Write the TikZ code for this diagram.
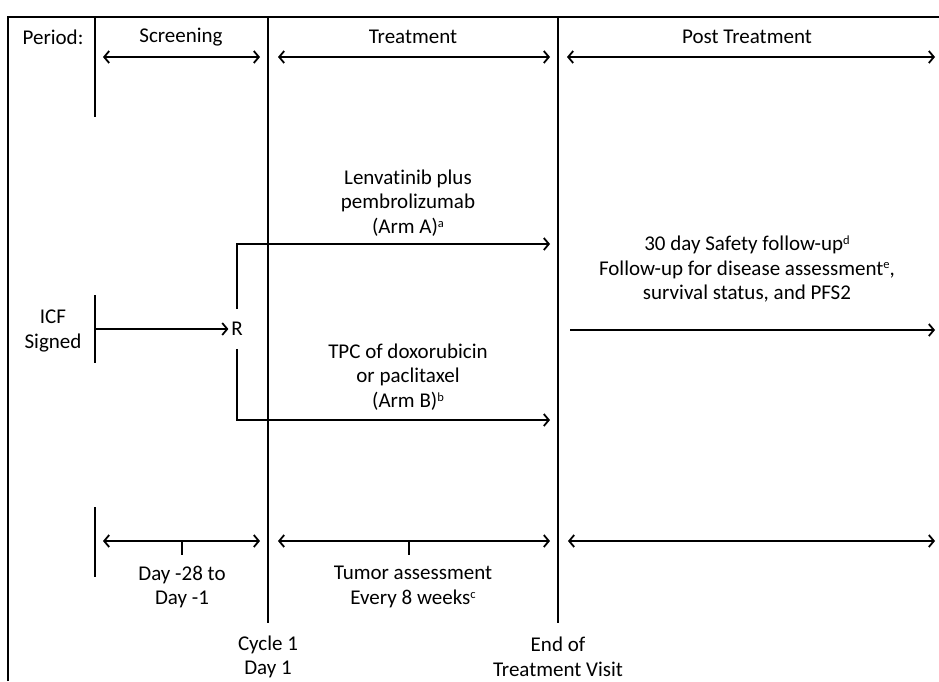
\documentclass[tikz,border=0pt]{standalone}
\usepackage{fontspec}
\setmainfont[Ligatures=NoCommon]{Carlito}
\usetikzlibrary{arrows.meta}
\newcommand\noteref[1]{\raisebox{0.6ex}{\fontsize{12.5}{12.5}\selectfont #1}}

\begin{document}
\begin{tikzpicture}[x=1pt,y=-1pt,line width=1.8pt,
  >={Straight Barb[length=5pt,width=12pt]},
  lbl/.style={inner sep=0pt,align=center,font=\fontsize{21}{24.5}\selectfont},
  span/.style={<->},
  tick/.style={line width=1.8pt}]
 \useasboundingbox (0,0) rectangle (939,681);
 % frame
 \coordinate (frameB) at (8,681);
 \coordinate (frameC) at (8,17);
 \coordinate (frameR) at (939,17);
 \draw[line width=1.1pt] (frameB) -- (frameC) -- (frameR);
 % period dividers
 \coordinate (startT) at (95,17);   \coordinate (startB) at (95,117);
 \coordinate (cycT) at (268,17);    \coordinate (cycB) at (268,623);
 \coordinate (eotT) at (558,17);    \coordinate (eotB) at (558,623);
 \draw (startT) -- (startB);
 \draw (cycT) -- (cycB);
 \draw (eotT) -- (eotB);
 % header
 \node[lbl] (period) at (53,37) {Period:};
 \node[lbl] (screening) at (181,37) {Screening};
 \node[lbl] (treatment) at (413,37) {Treatment};
 \node[lbl] (post) at (747,37) {Post Treatment};
 \coordinate (scrL) at (103,57);  \coordinate (scrR) at (260,57);
 \coordinate (trtL) at (278,57);  \coordinate (trtR) at (550,57);
 \coordinate (pstL) at (567,57);  \coordinate (pstR) at (935,57);
 \draw[span] (scrL) -- (scrR);
 \draw[span] (trtL) -- (trtR);
 \draw[span] (pstL) -- (pstR);
 % randomisation
 \node[lbl] (icf) at (53,331) {ICF\\Signed};
 \coordinate (icfT) at (95,295);  \coordinate (icfB) at (95,363);
 \draw (icfT) -- (icfB);
 \node[lbl,minimum height=38pt,inner xsep=2pt] (rand) at (237,329) {R};
 \coordinate (icfA) at (95,329);
 \draw[->] (icfA) -- (rand.west);
 \coordinate (armA) at (550,244);
 \coordinate (armB) at (550,420);
 \draw[->] (rand.north) |- (armA);
 \draw[->] (rand.south) |- (armB);
 \node[lbl] (textA) at (408,203) {Lenvatinib plus\\pembrolizumab\\(Arm A)\noteref{a}};
 \node[lbl] (textB) at (408,377) {TPC of doxorubicin\\or paclitaxel\\(Arm B)\noteref{b}};
 \node[lbl] (follow) at (747,269) {30 day Safety follow-up\noteref{d}\\Follow-up for disease assessment\noteref{e},\\survival status, and PFS2};
 \coordinate (folL) at (570,330);  \coordinate (folR) at (935,330);
 \draw[->] (folL) -- (folR);
 % timing
 \coordinate (dayT) at (95,507);  \coordinate (dayB) at (95,577);
 \draw (dayT) -- (dayB);
 \coordinate (dayL) at (103,541);  \coordinate (dayR) at (260,541);
 \coordinate (tumL) at (278,541);  \coordinate (tumR) at (550,541);
 \coordinate (futL) at (568,541);  \coordinate (futR) at (935,541);
 \draw[span] (dayL) -- (dayR);
 \draw[span] (tumL) -- (tumR);
 \draw[span] (futL) -- (futR);
 \coordinate (dayM) at (182,541);  \coordinate (tumM) at (409,541);
 \draw[tick] (dayM) -- ++(0,14);
 \draw[tick] (tumM) -- ++(0,14);
 \node[lbl] (days) at (182,587) {Day -28 to\\Day -1};
 \node[lbl] (tumor) at (413,587) {Tumor assessment\\Every 8 weeks\noteref{c}};
 \node[lbl] (cycle) at (268,657) {Cycle 1\\Day 1};
 \node[lbl] (eot) at (558,657) {End of\\Treatment Visit};
\end{tikzpicture}
\end{document}
